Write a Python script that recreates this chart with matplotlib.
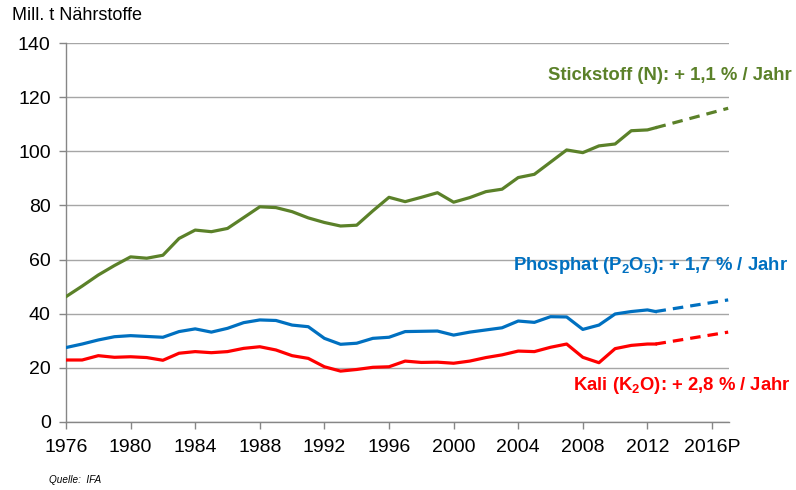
import numpy as np
import matplotlib
matplotlib.use('Agg')
import matplotlib.pyplot as plt

plt.rcParams['font.family'] = ['Liberation Sans', 'DejaVu Sans']
plt.rcParams['mathtext.fontset'] = 'custom'
plt.rcParams['mathtext.rm'] = 'Liberation Sans:bold'
plt.rcParams['mathtext.it'] = 'Liberation Sans:bold'
plt.rcParams['mathtext.bf'] = 'Liberation Sans:bold'

# Jahre und Verbrauch (Mill. t Nährstoffe)
years = list(range(1976, 2013))
stickstoff = [46.3, 50.2, 54.3, 57.8, 61.0, 60.5, 61.6, 67.8, 70.9, 70.3,
              71.5, 75.5, 79.5, 79.2, 77.7, 75.4, 73.7, 72.4, 72.7, 78.0,
              83.0, 81.4, 83.0, 84.7, 81.2, 82.9, 85.1, 86.0, 90.3, 91.5,
              96.0, 100.5, 99.5, 102.0, 102.7, 107.6, 107.9]
phosphat = [27.5, 28.8, 30.3, 31.5, 31.9, 31.6, 31.3, 33.4, 34.4, 33.2,
            34.6, 36.7, 37.7, 37.5, 35.8, 35.2, 30.9, 28.7, 29.1, 30.9,
            31.3, 33.4, 33.5, 33.6, 32.1, 33.2, 34.0, 34.8, 37.3, 36.8,
            38.9, 38.8, 34.2, 35.8, 39.9, 40.8, 41.4]
kali = [22.9, 22.9, 24.5, 23.9, 24.1, 23.8, 22.8, 25.4, 26.0, 25.6,
        26.0, 27.2, 27.8, 26.6, 24.5, 23.5, 20.4, 18.8, 19.4, 20.2,
        20.4, 22.5, 22.0, 22.1, 21.7, 22.5, 23.8, 24.8, 26.2, 26.0,
        27.6, 28.8, 23.9, 21.9, 27.1, 28.3, 28.8]

# Prognose bis 2016P
proj_years = [2012.5, 2017]
stickstoff_proj = [108.7, 115.9]
phosphat_proj = [40.8, 45.1]
kali_proj = [28.8, 33.2]

xticks = [1976, 1980, 1984, 1988, 1992, 1996, 2000, 2004, 2008, 2012, 2016]
xticklabels = ['1976', '1980', '1984', '1988', '1992', '1996', '2000',
               '2004', '2008', '2012', '2016P']

green = '#5B8129'
blue = '#0070C0'
red = '#FF0000'

fig = plt.figure(figsize=(7.96, 4.90), dpi=100)
ax = fig.add_axes([0.0829, 0.1388, 0.8329, 0.7734])

for vals, proj, col in [(stickstoff, stickstoff_proj, green),
                        (phosphat, phosphat_proj, blue),
                        (kali, kali_proj, red)]:
    ax.plot(years + [proj_years[0]], vals + [proj[0]], color=col, lw=2.3,
            solid_joinstyle='round', zorder=3)
    ax.plot(proj_years, proj, color=col, lw=2.3, dashes=(3.3, 2.2), zorder=3)

ax.set_xlim(1976, 2017.05)
ax.set_ylim(0, 140)
ax.set_yticks(range(0, 141, 20))
ax.set_xticks(xticks)
ax.set_xticklabels(xticklabels)
ax.yaxis.grid(True, color='#A6A6A6', lw=1)
ax.set_axisbelow(True)
for s in ['top', 'right']:
    ax.spines[s].set_visible(False)
for s in ['left', 'bottom']:
    ax.spines[s].set_color('#868686')
    ax.spines[s].set_linewidth(1)
ax.tick_params(axis='both', colors='#868686', labelcolor='black',
               labelsize=14, length=5, width=1)
ax.tick_params(axis='x', pad=7)
ax.tick_params(axis='y', pad=6)

fig.text(0.015, 0.969, 'Mill. t Nährstoffe', fontsize=13, va='center', ha='left')
fig.text(0.995, 0.845, 'Stickstoff (N): + 1,1 % / Jahr', color=green,
         fontsize=13.3, fontweight='bold', ha='right', va='center')
fig.text(0.99, 0.458, r'Phosphat (P$_2$O$_5$): + 1,7 % / Jahr', color=blue,
         fontsize=13.3, fontweight='bold', ha='right', va='center')
fig.text(0.993, 0.213, r'Kali (K$_2$O): + 2,8 % / Jahr', color=red,
         fontsize=13.3, fontweight='bold', ha='right', va='center')
fig.text(0.062, 0.02, 'Quelle:  IFA', fontsize=7.2, style='italic',
         ha='left', va='center')

fig.savefig('out.png', dpi=100)
